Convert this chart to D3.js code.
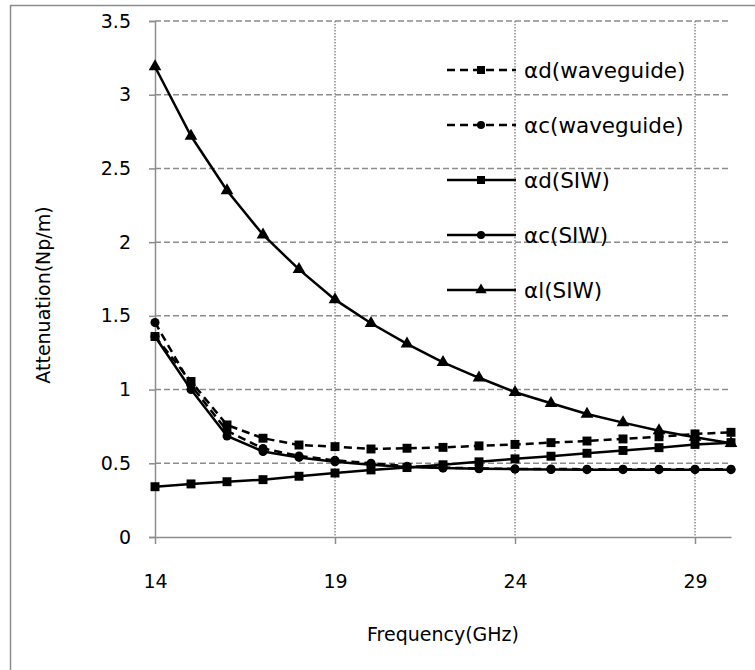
<!DOCTYPE html>
<html>
<head>
<meta charset="utf-8">
<script src="https://cdn.jsdelivr.net/npm/d3@7"></script>
<style>
  body { margin: 0; background: #fff; }
  text { font-family: "DejaVu Sans", sans-serif; fill: #000; }
</style>
</head>
<body>
<div id="chart"></div>
<script>
// frequency points (GHz)
var freq = [14, 15, 16, 17, 18, 19, 20, 21, 22, 23, 24, 25, 26, 27, 28, 29, 30];

var adWaveguide = [1.36, 1.055, 0.76, 0.67, 0.624, 0.613, 0.597, 0.602, 0.608, 0.618, 0.628, 0.64, 0.651, 0.665, 0.68, 0.699, 0.71];
var acWaveguide = [1.455, 1.03, 0.72, 0.6, 0.55, 0.52, 0.5, 0.48, 0.47, 0.465, 0.462, 0.461, 0.46, 0.46, 0.46, 0.46, 0.46];
var adSIW = [0.341, 0.36, 0.375, 0.389, 0.412, 0.434, 0.455, 0.471, 0.49, 0.51, 0.53, 0.548, 0.568, 0.587, 0.606, 0.628, 0.64];
var acSIW = [1.36, 1.0, 0.685, 0.58, 0.54, 0.51, 0.49, 0.475, 0.468, 0.463, 0.46, 0.458, 0.457, 0.457, 0.457, 0.457, 0.457];
var alSIW = [3.19, 2.72, 2.35, 2.05, 1.815, 1.61, 1.45, 1.31, 1.185, 1.08, 0.982, 0.907, 0.834, 0.776, 0.721, 0.677, 0.636];

var seriesNames = ["αd(waveguide)", "αc(waveguide)", "αd(SIW)", "αc(SIW)", "αl(SIW)"];
var xTicks = [14, 19, 24, 29];
var yTicks = [0, 0.5, 1, 1.5, 2, 2.5, 3, 3.5];

var series = [
  { name: seriesNames[0], values: adWaveguide, dash: "8,5", shape: d3.symbolSquare, size: 80 },
  { name: seriesNames[1], values: acWaveguide, dash: "8,5", shape: d3.symbolCircle, size: 64 },
  { name: seriesNames[2], values: adSIW, dash: null, shape: d3.symbolSquare, size: 80 },
  { name: seriesNames[3], values: acSIW, dash: null, shape: d3.symbolCircle, size: 64 },
  { name: seriesNames[4], values: alSIW, dash: null, shape: d3.symbolTriangle, size: 70 }
];

var w = 755, h = 670;
var svg = d3.select("#chart").append("svg")
  .attr("width", w)
  .attr("height", h);

// outer chart frame
svg.append("rect")
  .attr("x", 10.5).attr("y", 5.5)
  .attr("width", 800).attr("height", 700)
  .attr("fill", "none")
  .attr("stroke", "#8c8c8c")
  .attr("stroke-width", 1.5);

var x = d3.scaleLinear().domain([14, 30]).range([155, 731]);
var y = d3.scaleLinear().domain([0, 3.5]).range([537, 21]);

// horizontal gridlines (dashed)
svg.selectAll(".hgrid").data(yTicks.filter(function(d) { return d > 0; }))
  .enter().append("line")
  .attr("x1", x(14)).attr("x2", x(30))
  .attr("y1", function(d) { return y(d); })
  .attr("y2", function(d) { return y(d); })
  .attr("stroke", "#8c8c8c")
  .attr("stroke-width", 1.5)
  .attr("stroke-dasharray", "6,3");

// vertical gridlines (dotted)
svg.selectAll(".vgrid").data(xTicks.filter(function(d) { return d > 14; }))
  .enter().append("line")
  .attr("x1", function(d) { return x(d); })
  .attr("x2", function(d) { return x(d); })
  .attr("y1", y(3.5)).attr("y2", y(0))
  .attr("stroke", "#8c8c8c")
  .attr("stroke-width", 1.5)
  .attr("stroke-dasharray", "1.5,1.5");

// y axis
var yAxis = d3.axisLeft(y).tickValues(yTicks).tickSize(6).tickPadding(18)
  .tickFormat(function(d) { return d; });
var gy = svg.append("g").attr("transform", "translate(" + x(14) + ",0)").call(yAxis);
gy.select(".domain").attr("stroke", "#8c8c8c").attr("stroke-width", 1.5);
gy.selectAll(".tick line").attr("stroke", "#8c8c8c").attr("stroke-width", 1.5);
gy.selectAll(".tick text").attr("font-size", 19).attr("font-family", "DejaVu Sans");

// x axis
var xAxis = d3.axisBottom(x).tickValues(xTicks).tickSize(7).tickPadding(31)
  .tickSizeOuter(0);
var gx = svg.append("g").attr("transform", "translate(0," + y(0) + ")").call(xAxis);
gx.select(".domain").attr("stroke", "#8c8c8c").attr("stroke-width", 1.5);
gx.selectAll(".tick line").attr("stroke", "#8c8c8c").attr("stroke-width", 1.5);
gx.selectAll(".tick text").attr("font-size", 19).attr("font-family", "DejaVu Sans");

// axis titles
svg.append("text")
  .attr("x", x(22)).attr("y", 641)
  .attr("text-anchor", "middle")
  .attr("font-size", 19)
  .text("Frequency(GHz)");

svg.append("text")
  .attr("transform", "translate(50,295) rotate(-90)")
  .attr("text-anchor", "middle")
  .attr("font-size", 19)
  .text("Attenuation(Np/m)");

// series lines + markers
var line = d3.line()
  .x(function(d, i) { return x(freq[i]); })
  .y(function(d) { return y(d); });

series.forEach(function(s) {
  var g = svg.append("g");
  g.append("path")
    .attr("d", line(s.values))
    .attr("fill", "none")
    .attr("stroke", "#000")
    .attr("stroke-width", 2.5)
    .attr("stroke-dasharray", s.dash);
  g.selectAll("path.m").data(s.values).enter().append("path")
    .attr("class", "m")
    .attr("d", d3.symbol().type(s.shape).size(s.size))
    .attr("transform", function(d, i) { return "translate(" + x(freq[i]) + "," + y(d) + ")"; })
    .attr("fill", "#000");
});

// legend
var legendY = [70, 125, 180, 235, 290];
var legend = svg.append("g");
series.forEach(function(s, i) {
  var ly = legendY[i];
  legend.append("line")
    .attr("x1", 447).attr("x2", 516)
    .attr("y1", ly).attr("y2", ly)
    .attr("stroke", "#000")
    .attr("stroke-width", 2.5)
    .attr("stroke-dasharray", s.dash);
  legend.append("path")
    .attr("d", d3.symbol().type(s.shape).size(s.size * 0.8))
    .attr("transform", "translate(481," + ly + ")")
    .attr("fill", "#000");
  legend.append("text")
    .attr("x", 524).attr("y", ly)
    .attr("dy", "0.35em")
    .attr("font-size", 21.5)
    .text(s.name);
});
</script>
</body>
</html>
